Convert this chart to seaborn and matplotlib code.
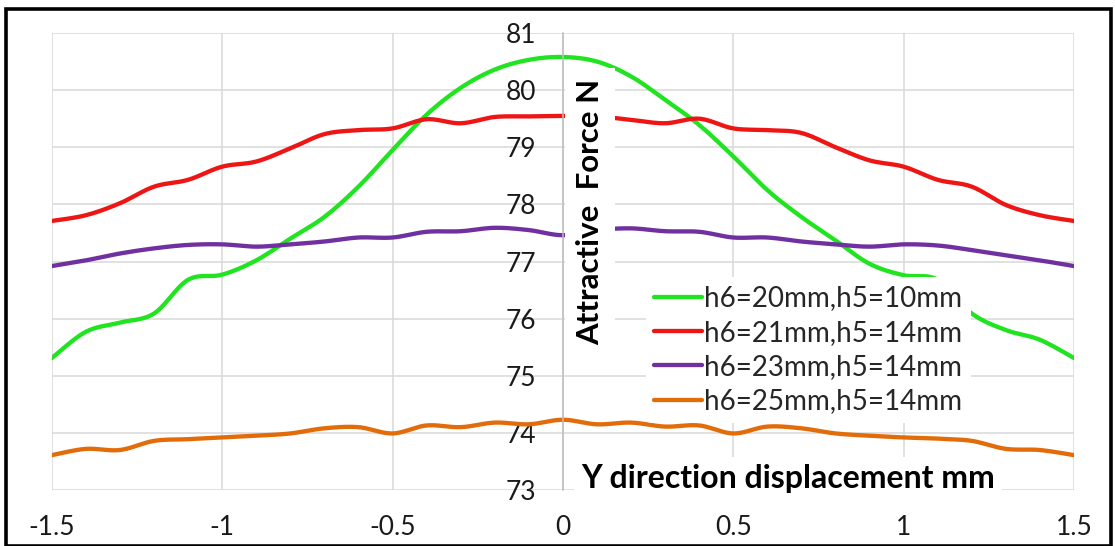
import numpy as np
import matplotlib
matplotlib.use("Agg")
import matplotlib.pyplot as plt
import seaborn as sns
from matplotlib.patches import Rectangle

# Displacement along Y (mm)
displacement = [-1.5, -1.4, -1.3, -1.2, -1.1, -1.0, -0.9, -0.8, -0.7, -0.6, -0.5,
                -0.4, -0.3, -0.2, -0.1, 0.0, 0.1, 0.2, 0.3, 0.4, 0.5,
                0.6, 0.7, 0.8, 0.9, 1.0, 1.1, 1.2, 1.3, 1.4, 1.5]

# Attractive force (N) for each geometry
force_h6_20_h5_10 = [75.31, 75.77, 75.93, 76.09, 76.68, 76.77, 77.02, 77.40, 77.78, 78.31, 78.95,
                     79.57, 80.04, 80.36, 80.53, 80.58, 80.50, 80.24, 79.83, 79.39, 78.84,
                     78.25, 77.78, 77.37, 76.96, 76.76, 76.68, 76.09, 75.80, 75.63, 75.31]
force_h6_21_h5_14 = [77.71, 77.81, 78.02, 78.31, 78.43, 78.66, 78.75, 78.98, 79.23, 79.30, 79.33,
                     79.49, 79.42, 79.53, 79.54, 79.55, 79.54, 79.48, 79.42, 79.50, 79.33,
                     79.30, 79.25, 79.00, 78.77, 78.66, 78.43, 78.31, 77.99, 77.81, 77.71]
force_h6_23_h5_14 = [76.92, 77.02, 77.14, 77.23, 77.29, 77.30, 77.26, 77.30, 77.35, 77.42, 77.42,
                     77.52, 77.53, 77.59, 77.55, 77.46, 77.55, 77.58, 77.53, 77.52, 77.42,
                     77.42, 77.35, 77.30, 77.26, 77.30, 77.28, 77.20, 77.11, 77.02, 76.92]
force_h6_25_h5_14 = [73.61, 73.72, 73.70, 73.86, 73.89, 73.92, 73.95, 73.99, 74.08, 74.10, 73.99,
                     74.13, 74.10, 74.18, 74.15, 74.23, 74.15, 74.18, 74.11, 74.13, 73.99,
                     74.11, 74.08, 73.99, 73.95, 73.92, 73.90, 73.86, 73.72, 73.70, 73.61]

series_labels = ["h6=20mm,h5=10mm", "h6=21mm,h5=14mm", "h6=23mm,h5=14mm", "h6=25mm,h5=14mm"]
series_values = [force_h6_20_h5_10, force_h6_21_h5_14, force_h6_23_h5_14, force_h6_25_h5_14]
series_colors = ["#1fe41f", "#ee1515", "#7030a0", "#e36c0a"]

x_ticks = [-1.5, -1, -0.5, 0, 0.5, 1, 1.5]
x_tick_labels = ["-1.5", "-1", "-0.5", "0", "0.5", "1", "1.5"]
y_ticks = [73, 74, 75, 76, 77, 78, 79, 80, 81]


def catmull_rom(x, y, steps=16):
    """Smooth curve through the points (Catmull-Rom spline)."""
    x = np.asarray(x, float)
    y = np.asarray(y, float)
    px = np.concatenate([[x[0]], x, [x[-1]]])
    py = np.concatenate([[y[0]], y, [y[-1]]])
    xs, ys = [], []
    t = np.linspace(0, 1, steps, endpoint=False)
    for i in range(1, len(px) - 2):
        for arr, out in ((px, xs), (py, ys)):
            p0, p1, p2, p3 = arr[i - 1], arr[i], arr[i + 1], arr[i + 2]
            out.extend(0.5 * ((2 * p1) + (-p0 + p2) * t
                              + (2 * p0 - 5 * p1 + 4 * p2 - p3) * t ** 2
                              + (-p0 + 3 * p1 - 3 * p2 + p3) * t ** 3))
    xs.append(x[-1])
    ys.append(y[-1])
    return np.array(xs), np.array(ys)


sns.set_style("white")
plt.rcParams["font.family"] = ["Lato", "DejaVu Sans"]

W, H = 1115, 546
fig = plt.figure(figsize=(W / 100, H / 100), dpi=100)
ax = fig.add_axes([51.8 / W, 1 - 490 / H, (1074 - 51.8) / W, (490 - 33) / H])

for vals, lab, col in zip(series_values, series_labels, series_colors):
    sx, sy = catmull_rom(displacement, vals)
    sns.lineplot(x=sx, y=sy, color=col, lw=3.1, label=lab, sort=False,
                 estimator=None, ax=ax, zorder=2)

ax.set_xlim(-1.5, 1.5)
ax.set_ylim(73, 81)
ax.set_xticks(x_ticks)
ax.set_xticklabels(x_tick_labels)
ax.set_yticks(y_ticks)
ax.grid(True, color="#d9d9d9", lw=1.1, zorder=0)
ax.set_axisbelow(True)

for side in ("top", "right", "bottom"):
    ax.spines[side].set_visible(False)
ax.spines["left"].set_position(("data", 0))
ax.spines["left"].set_color("#bfbfbf")
ax.spines["left"].set_linewidth(1.1)

ax.tick_params(axis="y", length=0, pad=19.5, labelsize=19, colors="#1a1a1a")
ax.tick_params(axis="x", length=0, pad=18, labelsize=19, colors="#1a1a1a")
ax.set_xlabel("")
ax.set_ylabel("")

# Axis titles with white boxes placed inside the plot
ax.text(590 / W, 1 - 212 / H, "Attractive  Force N", transform=fig.transFigure,
        rotation=90, ha="center", va="center", fontsize=22.5, fontweight="bold",
        color="black", zorder=4,
        bbox=dict(facecolor="white", edgecolor="none", pad=8))
ax.text(581 / W, 1 - 488 / H, "Y direction displacement mm", transform=fig.transFigure,
        ha="left", va="baseline", fontsize=23, fontweight="bold",
        color="black", zorder=4,
        bbox=dict(facecolor="white", edgecolor="none", pad=5))

leg = ax.legend(loc="upper left", bbox_to_anchor=(646 / W, 1 - 277 / H),
                bbox_transform=fig.transFigure, frameon=True, fontsize=20,
                handlelength=1.7, handletextpad=0.1, labelspacing=0.3,
                borderpad=0.3, borderaxespad=0)
leg.get_frame().set_facecolor("white")
leg.get_frame().set_edgecolor("none")
leg.get_frame().set_alpha(1)
leg.set_zorder(5)
for line in leg.get_lines():
    line.set_linewidth(3.1)

# Chart border
fig.patches.append(Rectangle((6 / W, 0.0), (1111 - 6) / W, 1 - 9 / H,
                             transform=fig.transFigure, fill=False,
                             edgecolor="black", lw=2.6))

fig.savefig("out.png", dpi=100, facecolor="white")
